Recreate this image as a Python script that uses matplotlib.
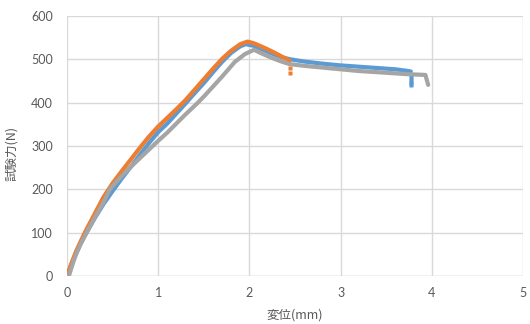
import matplotlib
matplotlib.use('Agg')
import matplotlib.pyplot as plt

# --- data (displacement mm, force N) ---
blue_x = [0, 0.05, 0.1, 0.15, 0.2, 0.3, 0.4, 0.5, 0.6, 0.7, 0.8, 0.9, 1.0, 1.1, 1.2, 1.3, 1.4, 1.5,
          1.6, 1.7, 1.8, 1.9, 1.96, 2.05, 2.15, 2.25, 2.35, 2.45, 2.6, 2.8, 3.0, 3.2, 3.4, 3.6, 3.71, 3.77]
blue_y = [0, 28, 53, 75, 95, 132, 166, 196, 225, 252, 280, 307, 332, 352, 375, 398, 422, 445,
          470, 494, 515, 530, 535, 531, 522, 513, 505, 500, 495, 490, 486, 483, 480, 477, 474, 472]
blue_tail_x = [3.77, 3.77, 3.77, 3.77, 3.77]
blue_tail_y = [465, 458, 451, 445, 440]

orange_x = [0, 0.05, 0.1, 0.15, 0.2, 0.25, 0.3, 0.4, 0.5, 0.6, 0.7, 0.8, 0.9, 1.0, 1.1, 1.2, 1.3, 1.4,
            1.5, 1.6, 1.7, 1.8, 1.9, 1.98, 2.05, 2.15, 2.25, 2.35, 2.44]
orange_y = [0, 30, 57, 80, 102, 122, 142, 182, 214, 242, 269, 296, 322, 345, 365, 385, 406, 430,
            454, 478, 501, 520, 535, 541, 537, 528, 518, 507, 497]
orange_tail_x = [2.44, 2.44]
orange_tail_y = [481, 469]

gray_x = [0.02, 0.07, 0.1, 0.15, 0.215, 0.3, 0.4, 0.47, 0.6, 0.7, 0.8, 0.94, 1.0, 1.1, 1.2, 1.3, 1.435,
          1.5, 1.6, 1.7, 1.84, 1.95, 2.05, 2.15, 2.25, 2.35, 2.44, 2.6, 2.8, 3.0, 3.2, 3.5, 3.71, 3.93, 3.96]
gray_y = [0, 33, 50, 74, 100, 133, 170, 200, 231, 252, 272, 300, 312, 331, 352, 373, 400,
          414, 437, 460, 494, 512, 522, 512, 503, 495, 489, 485, 481, 477, 473, 469, 466, 464, 441]

x_ticks = [0, 1, 2, 3, 4, 5]
y_ticks = [0, 100, 200, 300, 400, 500, 600]
x_label = '変位(mm)'
y_label = '試験力(N)'

BLUE, ORANGE, GRAY = '#5B9BD5', '#ED7D31', '#A5A5A5'
TXT = '#595959'
GRID = '#D9D9D9'

fig = plt.figure(figsize=(5.3, 3.24), dpi=100)
ax = fig.add_axes([67/530, 1 - 276/324, 456/530, 260/324])

lw = 3.0
ax.plot(blue_x, blue_y, color=BLUE, lw=lw, solid_capstyle='round', solid_joinstyle='round', zorder=3)
ax.plot(blue_tail_x, blue_tail_y, ls='none', marker='s', ms=2.2, color=BLUE, mec='none', zorder=3)
ax.plot(orange_x, orange_y, color=ORANGE, lw=lw, solid_capstyle='round', solid_joinstyle='round', zorder=4)
ax.plot(orange_tail_x, orange_tail_y, ls='none', marker='s', ms=2.4, color=ORANGE, mec='none', zorder=4)
ax.plot(gray_x, gray_y, color=GRAY, lw=lw, solid_capstyle='round', solid_joinstyle='round', zorder=5)

ax.set_xlim(0, 5)
ax.set_ylim(0, 600)
ax.set_xticks(x_ticks)
ax.set_yticks(y_ticks)
ax.grid(True, color=GRID, lw=1.0)
ax.set_axisbelow(True)
for s in ax.spines.values():
    s.set_visible(False)
ax.axhline(0, color=GRID, lw=1.0, zorder=1)

tick_font = 'Lato'
ax.tick_params(length=0, colors=TXT, labelsize=9)
ax.tick_params(axis='x', pad=8)
ax.tick_params(axis='y', pad=10)
for lab in ax.get_xticklabels() + ax.get_yticklabels():
    lab.set_family(tick_font)

cjk = ['Noto Sans CJK JP', 'DejaVu Sans']
ax.set_xlabel(x_label, family=cjk, fontsize=9, color=TXT)
ax.set_ylabel(y_label, family=cjk, fontsize=9, color=TXT)
ax.xaxis.set_label_coords(0.5, -0.125)
ax.yaxis.set_label_coords(-0.108, 0.47)

fig.savefig('out.png', dpi=100)
